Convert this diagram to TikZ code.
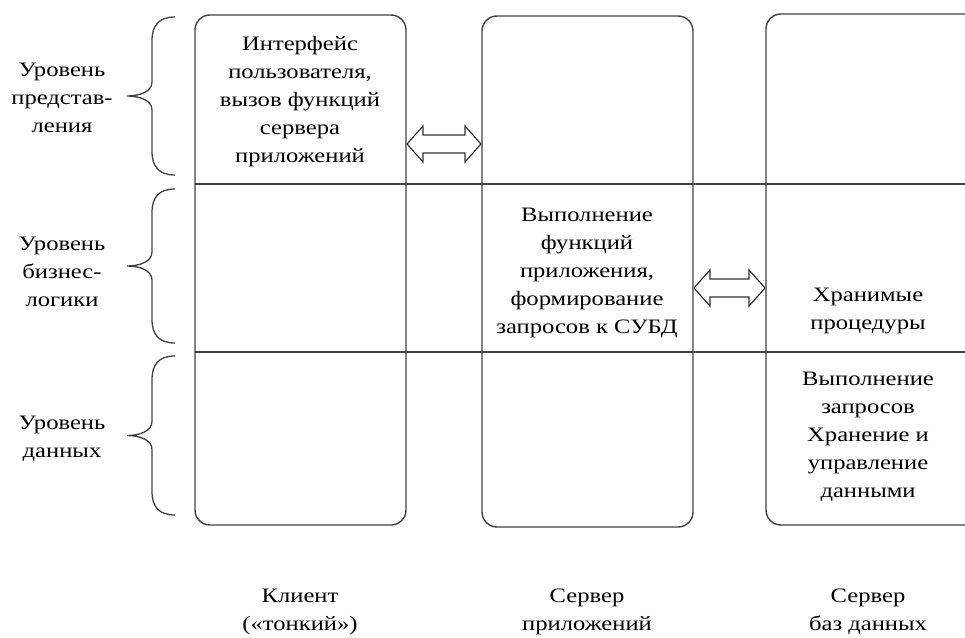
\documentclass[tikz,border=0pt]{standalone}
\usepackage{fontspec}
\setmainfont{Liberation Serif}
\newfontfamily\tms[FakeStretch=1.2]{Liberation Serif}
\usetikzlibrary{calc}
\tikzset{
  frame/.style={draw=black!75, line width=1.4pt, rounded corners=15pt},
  sep/.style={draw=black!75, line width=1.2pt},
  txt/.style={align=center, inner sep=0pt, font=\tms\fontsize{20.5}{28}\selectfont},
  brc/.style={draw=black!75, line width=1.3pt},
  dbl/.style={draw=black!80, line width=1.2pt, fill=white, line join=miter}
}
\newcommand\mybrace[3]{% x-end, y-top, y-bottom
  \draw[brc] (#1,#2) .. controls (#1-16,#2) and (#1-23,#2+8) .. (#1-23,#2+24)
    -- (#1-23,{(#2+#3)/2-14}) .. controls (#1-23,{(#2+#3)/2-4}) and (#1-36,{(#2+#3)/2}) .. (#1-48,{(#2+#3)/2})
    .. controls (#1-36,{(#2+#3)/2}) and (#1-23,{(#2+#3)/2+4}) .. (#1-23,{(#2+#3)/2+14})
    -- (#1-23,#3-24) .. controls (#1-23,#3-8) and (#1-16,#3) .. (#1,#3);}
\newcommand\dblarr[2]{% left tip, right tip coordinates
  \draw[dbl] (#1) -- ($(#1)+(16,-18)$) -- ($(#1)+(16,-9)$) -- ($(#2)+(-16,-9)$) -- ($(#2)+(-16,-18)$)
    -- (#2) -- ($(#2)+(-16,18)$) -- ($(#2)+(-16,9)$) -- ($(#1)+(16,9)$) -- ($(#1)+(16,18)$) -- cycle;}
\begin{document}
\begin{tikzpicture}[x=1pt,y=-1pt]
\useasboundingbox (0,0) rectangle (965,637);
\clip (0,0) rectangle (965,637);
% boxes
\draw[frame] (195,15) rectangle (406,525);
\draw[frame] (482,16) rectangle (693,527);
\draw[frame] (766,14) rectangle (1000,525);
% separators
\coordinate (s1a) at (195,184); \coordinate (s1b) at (965,184);
\coordinate (s2a) at (195,352); \coordinate (s2b) at (965,352);
\draw[sep] (s1a) -- (s1b);
\draw[sep] (s2a) -- (s2b);
% braces
\mybrace{175}{17}{175}
\mybrace{175}{189}{343}
\mybrace{175}{356}{515}
% arrows
\coordinate (l1) at (407,144); \coordinate (r1) at (481,144);
\coordinate (l2) at (694,288); \coordinate (r2) at (765,288);
\dblarr{l1}{r1}
\dblarr{l2}{r2}
% left labels
\node[txt] (lv1) at (62,98) {Уровень\\представ-\\ления};
\node[txt] (lv2) at (62,272) {Уровень\\бизнес-\\логики};
\node[txt] (lv3) at (62,439) {Уровень\\данных};
% box texts
\node[txt] (t1) at (300,102) {Интерфейс\\пользователя,\\вызов функций\\сервера\\приложений};
\node[txt] (t2) at (587,273) {Выполнение\\функций\\приложения,\\формирование\\запросов к СУБД};
\node[txt] (t3) at (868,311) {Хранимые\\процедуры};
\node[txt] (t4) at (868,437) {Выполнение\\запросов\\Хранение и\\управление\\данными};
% bottom labels
\node[txt] (b1) at (300,612) {Клиент\\(«тонкий»)};
\node[txt] (b2) at (587,612) {Сервер\\приложений};
\node[txt] (b3) at (868,612) {Сервер\\баз данных};
\end{tikzpicture}
\end{document}
